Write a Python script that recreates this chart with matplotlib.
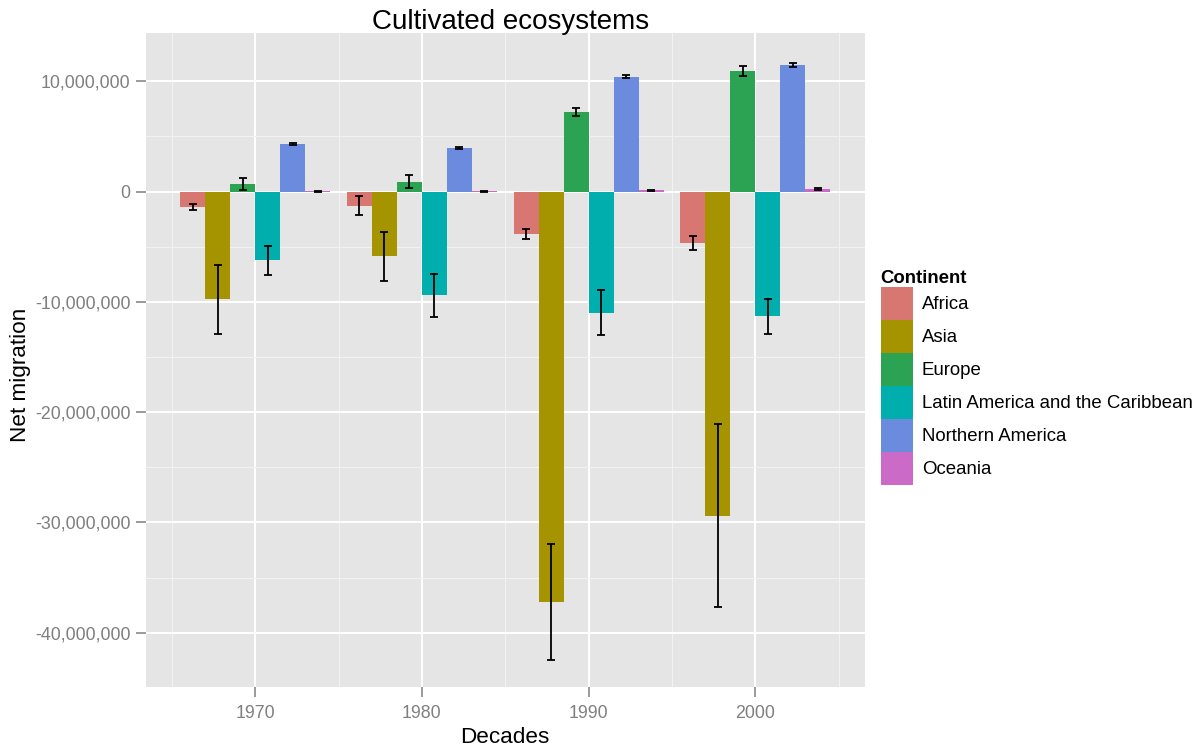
import numpy as np
import matplotlib
matplotlib.use('Agg')
import matplotlib.pyplot as plt
from matplotlib.patches import Patch
from matplotlib.ticker import FuncFormatter, FixedLocator

plt.rcParams['font.family'] = ['Liberation Sans', 'DejaVu Sans']

# Données (millions de personnes)
decades = [1970, 1980, 1990, 2000]
continents = ['Africa', 'Asia', 'Europe', 'Latin America and the Caribbean',
              'Northern America', 'Oceania']

africa = [-1.40, -1.30, -3.88, -4.68]
asia = [-9.75, -5.87, -37.2, -29.4]
europe = [0.65, 0.90, 7.22, 10.93]
latam = [-6.25, -9.40, -11.0, -11.33]
north_america = [4.30, 3.93, 10.42, 11.47]
oceania = [0.03, 0.03, 0.12, 0.24]

africa_err = [0.29, 0.86, 0.45, 0.66]
asia_err = [3.13, 2.20, 5.25, 8.30]
europe_err = [0.55, 0.60, 0.35, 0.48]
latam_err = [1.32, 1.94, 2.03, 1.57]
north_america_err = [0.06, 0.10, 0.15, 0.15]
oceania_err = [0.05, 0.05, 0.05, 0.06]

values = [africa, asia, europe, latam, north_america, oceania]
errors = [africa_err, asia_err, europe_err, latam_err, north_america_err, oceania_err]
colors = ['#D87672', '#A69300', '#2BA352', '#00AEAE', '#6B8BDF', '#CB6AC7']

W, H = 1203, 753
fig = plt.figure(figsize=(W / 100, H / 100), dpi=100)
ax = fig.add_axes([145.7 / W, 1 - 686.7 / H, (865 - 145.7) / W, (686.7 - 32.7) / H])
ax.set_facecolor('#E5E5E5')

# Barres groupées (dodge 0.9 comme ggplot)
n = len(continents)
bar_w = 9.0 / n
x = np.array(decades, dtype=float)
for i in range(n):
    xi = x - 4.5 + bar_w * (i + 0.5)
    v = np.array(values[i]) * 1e6
    e = np.array(errors[i]) * 1e6
    ax.bar(xi, v, width=bar_w, color=colors[i], zorder=2, linewidth=0)
    ax.errorbar(xi, v, yerr=e, fmt='none', ecolor='black', elinewidth=1.3,
                capsize=3, capthick=1.3, zorder=3)

ax.set_xlim(1963.43, 2006.58)
ax.set_ylim(-44.9e6, 14.4e6)
ax.set_xticks(decades)
ax.xaxis.set_minor_locator(FixedLocator([1965, 1975, 1985, 1995, 2005]))
ax.set_yticks(np.arange(-40e6, 10e6 + 1, 10e6))
ax.yaxis.set_minor_locator(FixedLocator(np.arange(-35e6, 10e6, 10e6)))
ax.yaxis.set_major_formatter(FuncFormatter(lambda v, p: f'{v:,.0f}'))

ax.grid(which='major', color='white', linewidth=1.4, zorder=0)
ax.grid(which='minor', color='#F2F2F2', linewidth=0.8, zorder=0)
ax.set_axisbelow(True)
for s in ax.spines.values():
    s.set_visible(False)
ax.tick_params(which='major', length=7, width=1.1, color='#7F7F7F',
               labelcolor='#7F7F7F', labelsize=12.8)
ax.tick_params(axis='x', which='major', pad=6)
ax.tick_params(axis='y', which='major', pad=4)
ax.tick_params(which='minor', length=0)

fig.text(511 / W, 1 - 29 / H, 'Cultivated ecosystems', ha='center', va='baseline', fontsize=20)
fig.text(505 / W, 1 - 743 / H, 'Decades', ha='center', va='baseline', fontsize=16.2)
fig.text(21 / W, 1 - 375 / H, 'Net migration', ha='center', va='center',
         rotation=90, fontsize=16.2)

handles = [Patch(facecolor=c, label=l) for c, l in zip(colors, continents)]
fig.legend(handles=handles, title='Continent', loc='upper left',
           bbox_to_anchor=(880.7 / W, 1 - 270 / H), frameon=False, fontsize=13.45,
           title_fontproperties={'weight': 'bold', 'size': 13.45},
           handlelength=1.73, handleheight=2.34, labelspacing=0,
           handletextpad=0.48, borderpad=0, borderaxespad=0, alignment='left')

fig.savefig('out.png', dpi=100)
